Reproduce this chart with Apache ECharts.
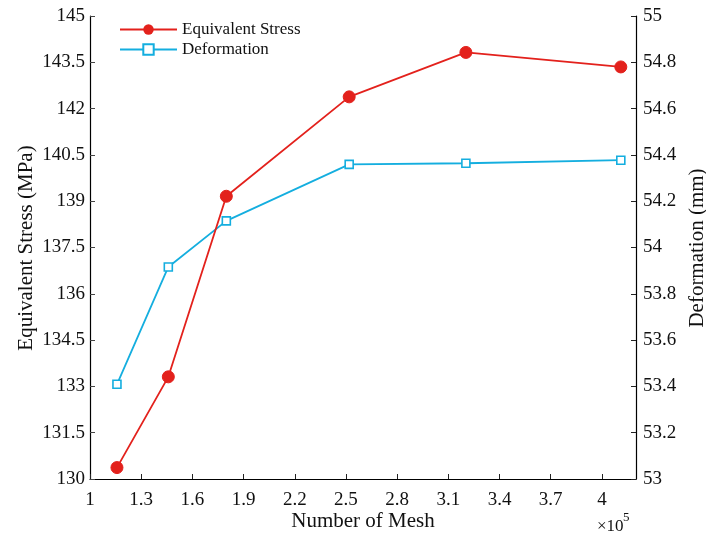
<!DOCTYPE html>
<html>
<head>
<meta charset="utf-8">
<script src="https://cdn.jsdelivr.net/npm/echarts@6/dist/echarts.min.js"></script>
<style>
  html, body { margin: 0; padding: 0; background: #fff; }
  #chart { width: 706px; height: 538px; }
</style>
</head>
<body>
<div id="chart"></div>
<script>
// Mesh counts (×10^5) and the two monitored quantities
const meshCount = [1.158, 1.459, 1.799, 2.519, 3.203, 4.111];
const equivalentStress = [130.37, 133.31, 139.16, 142.38, 143.82, 143.35]; // MPa
const deformation = [53.409, 53.916, 54.115, 54.359, 54.364, 54.377];     // mm

const FONT = '"Liberation Serif", "DejaVu Serif", serif';
const RED = '#E3211C';
const BLUE = '#14AEDF';

const fmt = v => String(Number(v.toFixed(2)));

const chart = echarts.init(document.getElementById('chart'), null, { renderer: 'canvas' });

chart.setOption({
  animation: false,
  backgroundColor: '#fff',
  grid: { left: 90, right: 70, top: 16, bottom: 59 },
  legend: {
    orient: 'vertical',
    left: 114,
    top: 16,
    itemWidth: 57,
    itemHeight: 13,
    itemGap: 3,
    textStyle: { fontFamily: FONT, fontSize: 17, lineHeight: 17, color: '#111' },
    data: ['Equivalent Stress', 'Deformation']
  },
  xAxis: {
    type: 'value',
    min: 1, max: 4.2, interval: 0.3,
    axisLine: { show: true, lineStyle: { color: '#000', width: 1.2 } },
    axisTick: { inside: true, length: 5, lineStyle: { color: '#222' } },
    axisLabel: {
      showMaxLabel: false,
      margin: 12,
      fontFamily: FONT, fontSize: 19, color: '#111',
      formatter: v => fmt(v)
    },
    splitLine: { show: false }
  },
  yAxis: [
    {
      type: 'value',
      min: 130, max: 145, interval: 1.5,
      axisLine: { show: true, lineStyle: { color: '#000', width: 1.2 } },
      axisTick: { inside: true, length: 5, lineStyle: { color: '#444' } },
      axisLabel: { margin: 5, fontFamily: FONT, fontSize: 19, color: '#111', formatter: v => fmt(v) },
      splitLine: { show: false }
    },
    {
      type: 'value',
      position: 'right',
      min: 53, max: 55, interval: 0.2,
      axisLine: { show: true, lineStyle: { color: '#000', width: 1.2 } },
      axisTick: { inside: true, length: 5, lineStyle: { color: '#222' } },
      axisLabel: { margin: 7, fontFamily: FONT, fontSize: 19, color: '#111', formatter: v => fmt(v) },
      splitLine: { show: false }
    }
  ],
  series: [
    {
      name: 'Equivalent Stress',
      type: 'line',
      yAxisIndex: 0,
      data: meshCount.map((x, i) => [x, equivalentStress[i]]),
      symbol: 'circle',
      symbolSize: 12,
      lineStyle: { color: RED, width: 1.8 },
      itemStyle: { color: RED, borderColor: RED },
      z: 3
    },
    {
      name: 'Deformation',
      type: 'line',
      yAxisIndex: 1,
      data: meshCount.map((x, i) => [x, deformation[i]]),
      symbol: 'rect',
      symbolSize: 8,
      lineStyle: { color: BLUE, width: 1.8 },
      itemStyle: { color: '#fff', borderColor: BLUE, borderWidth: 1.6 },
      z: 2
    }
  ],
  graphic: [
    {
      type: 'text',
      x: 363,
      y: 511,
      style: { text: 'Number of Mesh', font: '21px ' + FONT, fill: '#111', align: 'center', verticalAlign: 'top' }
    },
    {
      type: 'text',
      x: 597,
      y: 518,
      style: { text: '×10', font: '17px ' + FONT, fill: '#111', verticalAlign: 'top' }
    },
    {
      type: 'text',
      x: 623,
      y: 511,
      style: { text: '5', font: '13px ' + FONT, fill: '#111', verticalAlign: 'top' }
    },
    {
      type: 'text',
      x: 16, y: 248,
      rotation: Math.PI / 2,
      style: { text: 'Equivalent Stress (MPa)', font: '21px ' + FONT, fill: '#111', align: 'center', verticalAlign: 'top' }
    },
    {
      type: 'text',
      x: 687, y: 248,
      rotation: Math.PI / 2,
      style: { text: 'Deformation (mm)', font: '21px ' + FONT, fill: '#111', align: 'center', verticalAlign: 'top' }
    }
  ]
});
</script>
</body>
</html>
